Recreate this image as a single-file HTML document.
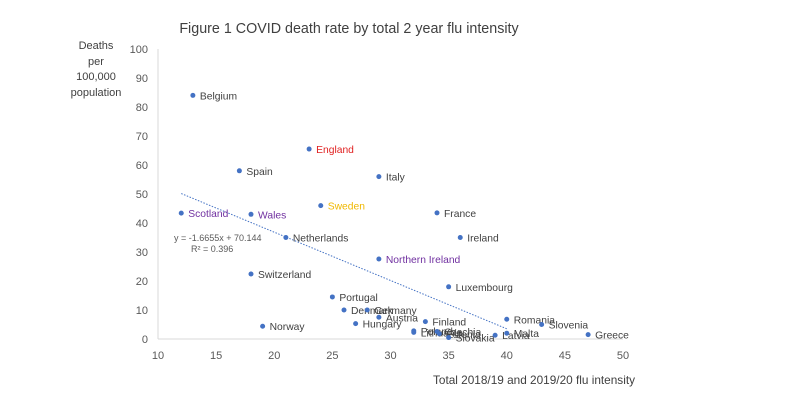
<!DOCTYPE html>
<html><head><meta charset="utf-8"><style>
body{margin:0;background:#fff;}
svg text{font-family:"Liberation Sans",sans-serif;}
</style></head><body>
<svg id="c" width="806" height="403" viewBox="0 0 806 403">
<text x="349" y="33" font-size="14.3" fill="#404040" text-anchor="middle">Figure 1 COVID death rate by total 2 year flu intensity</text>
<g font-size="11" fill="#404040" text-anchor="middle">
<text x="96" y="49">Deaths</text><text x="96" y="65">per</text><text x="96" y="80">100,000</text><text x="96" y="96">population</text></g>
<text x="534" y="384" font-size="11.8" fill="#404040" text-anchor="middle">Total 2018/19 and 2019/20 flu intensity</text>
<g id="axes"></g><g id="marks"></g>
</svg>
<script>
const countries=["Belgium","England","Spain","Italy","Sweden","France","Scotland","Wales","Netherlands","Ireland","Northern Ireland","Switzerland","Luxembourg","Portugal","Denmark","Germany","Austria","Hungary","Norway","Finland","Poland","Lithuania","Czechia","Estonia","Slovakia","Latvia","Malta","Romania","Slovenia","Greece"];
const fluX=[13,23,17,29,24,34,12,18,21,36,29,18,35,25,26,28,29,27,19,33,32,32,34,34.2,35,39,40,40,43,47];
const deathY=[84,65.5,58,56,46,43.5,43.4,43,35,35,27.6,22.4,18,14.5,10,10,7.5,5.3,4.4,6,2.8,2.3,2.6,1.8,0.5,1.3,2,6.8,5,1.5];
const colors={England:"#e02020",Sweden:"#f0b800",Scotland:"#7030a0",Wales:"#7030a0","Northern Ireland":"#7030a0"};
const xTicks=[10,15,20,25,30,35,40,45,50];
const yTicks=[0,10,20,30,40,50,60,70,80,90,100];
const slope=-1.6655, intercept=70.144, trendX=[12,40];
const X=v=>158+(v-10)*11.625, Y=v=>339-v*2.9;
const NS="http://www.w3.org/2000/svg";
function mk(t,a,p,txt){const e=document.createElementNS(NS,t);for(const k in a)e.setAttribute(k,a[k]);if(txt!==undefined)e.textContent=txt;p.appendChild(e);return e;}
const ax=document.getElementById('axes'),mg=document.getElementById('marks');
let l=mk('line',{x1:158,y1:49,x2:158,y2:339,stroke:'#d9d9d9'},ax);

l=mk('line',{x1:158,y1:339,x2:623,y2:339,stroke:'#d9d9d9'},ax);

xTicks.forEach(v=>{const t=mk('text',{x:X(v),y:359,'font-size':11,fill:'#595959','text-anchor':'middle'},ax,v);
});
yTicks.forEach(v=>{const t=mk('text',{x:148,y:Y(v)+4,'font-size':11,fill:'#595959','text-anchor':'end'},ax,v);
});
const tl=mk('line',{x1:X(trendX[0]),y1:Y(slope*trendX[0]+intercept),x2:X(trendX[1]),y2:Y(slope*trendX[1]+intercept),stroke:'#4472c4','stroke-width':1,'stroke-dasharray':'1.5,1.5'},mg);

let t=mk('text',{x:174,y:241,'font-size':9,fill:'#595959'},mg,'y = -1.6655x + 70.144');

t=mk('text',{x:191,y:252,'font-size':9,fill:'#595959'},mg,'R² = 0.396');

countries.forEach((c,i)=>{const cx=X(fluX[i]),cy=Y(deathY[i]);
const d=mk('circle',{cx:cx,cy:cy,r:2.5,fill:'#4472c4'},mg);


const lb=mk('text',{x:cx+7,y:cy+4,'font-size':10.3,fill:colors[c]||'#404040'},mg,c);

});
</script>
</body></html>
